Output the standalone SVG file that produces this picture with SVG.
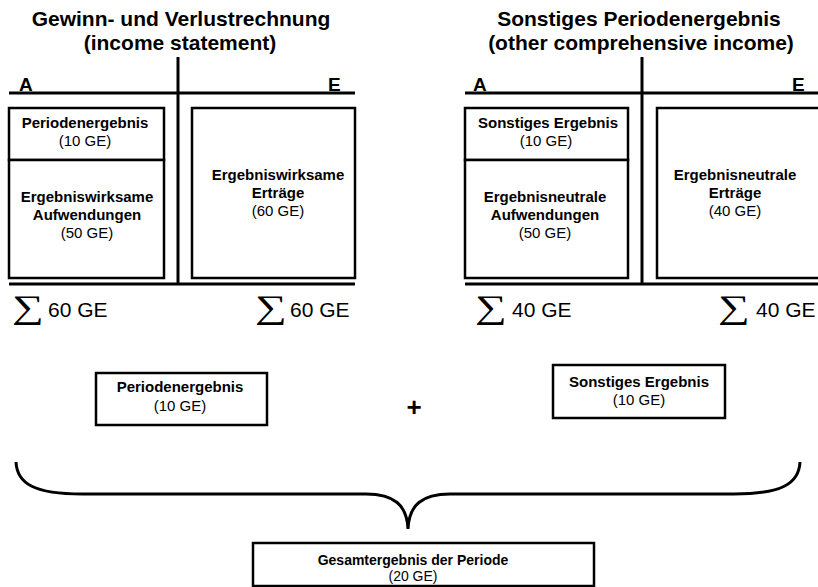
<svg xmlns="http://www.w3.org/2000/svg" width="818" height="587" viewBox="0 0 818 587">
  <style>
    .title { font: bold 21px "Liberation Sans", Arial, sans-serif; fill: #000; text-anchor: middle; }
    .side { font: bold 19px "Liberation Sans", Arial, sans-serif; fill: #000; }
    .lbl { font: bold 15px "Liberation Sans", Arial, sans-serif; fill: #000; text-anchor: middle; }
    .val { font: 15px "Liberation Sans", Arial, sans-serif; fill: #000; text-anchor: middle; }
    .sum { font: 21px "Liberation Sans", Arial, sans-serif; fill: #000; }
    .sigma { font: 33px "Liberation Serif", "Times New Roman", serif; fill: #000; }
    .tline { stroke: #000; stroke-width: 3; fill: none; }
    .box { stroke: #000; stroke-width: 2.5; fill: #fff; }
    .brace { stroke: #000; stroke-width: 3; fill: none; }
  </style>

  <!-- Income statement T-account -->
  <g id="income-statement">
    <text class="title" x="181" y="26">Gewinn- und Verlustrechnung</text>
    <text class="title" x="180" y="50">(income statement)</text>
    <line class="tline" x1="9" y1="93" x2="355" y2="93"/>
    <line class="tline" x1="178" y1="57" x2="178" y2="284"/>
    <line class="tline" x1="9" y1="284" x2="355" y2="284"/>
    <text class="side" x="19" y="91">A</text>
    <text class="side" x="328" y="91">E</text>
  </g>

  <g id="periodenergebnis-konto">
    <rect class="box" x="9" y="108" width="155" height="52"/>
    <text class="lbl" x="85" y="128">Periodenergebnis</text>
    <text class="val" x="85" y="146">(10 GE)</text>
  </g>

  <g id="aufwendungen-gv">
    <rect class="box" x="9" y="160" width="155" height="118"/>
    <text class="lbl" x="87" y="202">Ergebniswirksame</text>
    <text class="lbl" x="87" y="220">Aufwendungen</text>
    <text class="val" x="87" y="238">(50 GE)</text>
  </g>

  <g id="ertraege-gv">
    <rect class="box" x="192" y="108" width="163" height="170"/>
    <text class="lbl" x="278" y="180">Ergebniswirksame</text>
    <text class="lbl" x="278" y="198">Erträge</text>
    <text class="val" x="278" y="216">(60 GE)</text>
  </g>

  <!-- sigma glyphs are widened horizontally around their left edge -->
  <g id="summen-gv">
    <text class="sigma" transform="translate(12 318) scale(1.35 1)">∑</text>
    <text class="sum" x="48" y="317">60 GE</text>
    <text class="sigma" transform="translate(255 318) scale(1.35 1)">∑</text>
    <text class="sum" x="290" y="317">60 GE</text>
  </g>

  <!-- Other comprehensive income T-account -->
  <g id="other-comprehensive-income">
    <text class="title" x="639" y="26">Sonstiges Periodenergebnis</text>
    <text class="title" x="641" y="50">(other comprehensive income)</text>
    <line class="tline" x1="465" y1="93" x2="818" y2="93"/>
    <line class="tline" x1="642" y1="57" x2="642" y2="284"/>
    <line class="tline" x1="465" y1="284" x2="818" y2="284"/>
    <text class="side" x="473" y="91">A</text>
    <text class="side" x="792" y="91">E</text>
  </g>

  <g id="sonstiges-ergebnis-konto">
    <rect class="box" x="465" y="108" width="163" height="52"/>
    <text class="lbl" x="548" y="128">Sonstiges Ergebnis</text>
    <text class="val" x="546" y="146">(10 GE)</text>
  </g>

  <g id="aufwendungen-oci">
    <rect class="box" x="465" y="160" width="163" height="118"/>
    <text class="lbl" x="545" y="202">Ergebnisneutrale</text>
    <text class="lbl" x="545" y="220">Aufwendungen</text>
    <text class="val" x="545" y="238">(50 GE)</text>
  </g>

  <g id="ertraege-oci">
    <rect class="box" x="657" y="108" width="163" height="170"/>
    <text class="lbl" x="735" y="180">Ergebnisneutrale</text>
    <text class="lbl" x="735" y="198">Erträge</text>
    <text class="val" x="735" y="216">(40 GE)</text>
  </g>

  <g id="summen-oci">
    <text class="sigma" transform="translate(475 318) scale(1.35 1)">∑</text>
    <text class="sum" x="512" y="317">40 GE</text>
    <text class="sigma" transform="translate(718 318) scale(1.35 1)">∑</text>
    <text class="sum" x="756" y="317">40 GE</text>
  </g>

  <!-- Summation row -->
  <g id="periodenergebnis">
    <rect class="box" x="96" y="373" width="171" height="52"/>
    <text class="lbl" x="180" y="392">Periodenergebnis</text>
    <text class="val" x="180" y="411">(10 GE)</text>
  </g>

  <g id="plus">
    <text x="414" y="416" style="font: bold 26px 'Liberation Sans', Arial, sans-serif; text-anchor: middle;">+</text>
  </g>

  <g id="sonstiges-ergebnis">
    <rect class="box" x="553" y="365" width="172" height="53"/>
    <text class="lbl" x="639" y="387">Sonstiges Ergebnis</text>
    <text class="val" x="639" y="405">(10 GE)</text>
  </g>

  <g id="connectors">
    <path class="brace" d="M 16 462 C 17 484, 35 494, 82 494 L 366 494 C 394 494, 407 505, 408 529 C 409 505, 422 494, 450 494 L 734 494 C 781 494, 799 484, 800 462"/>
  </g>

  <g id="gesamtergebnis">
    <rect class="box" x="253" y="543" width="341" height="43"/>
    <text class="lbl" x="413" y="565" style="font-size:14px">Gesamtergebnis der Periode</text>
    <text class="val" x="413" y="581" style="font-size:14px">(20 GE)</text>
  </g>
</svg>
